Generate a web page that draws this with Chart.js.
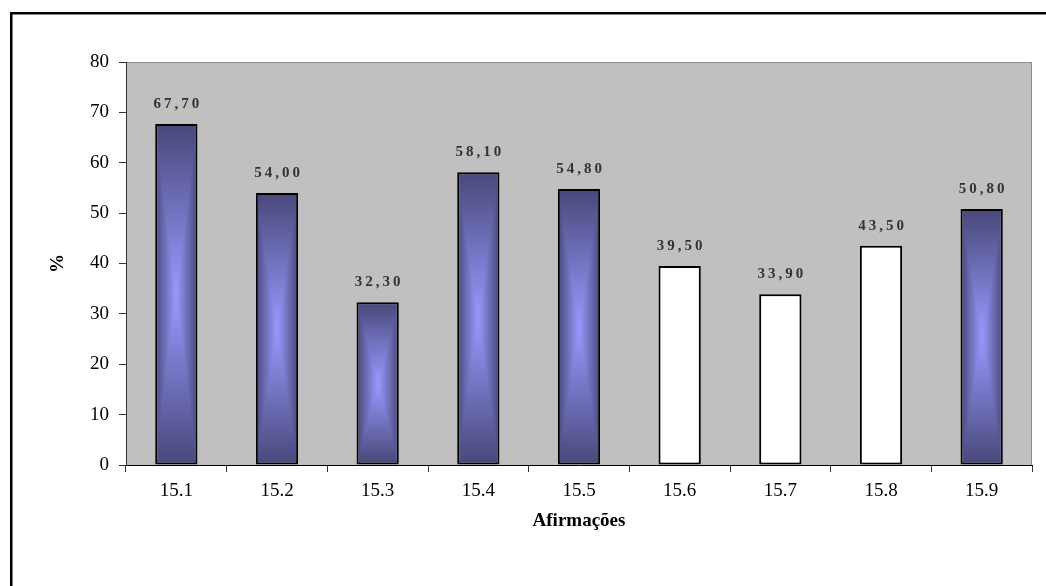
<!DOCTYPE html>
<html>
<head>
<meta charset="utf-8">
<title>Afirmações</title>
<script src="https://cdn.jsdelivr.net/npm/chart.js@4/dist/chart.umd.min.js"></script>
<style>
  html, body { margin: 0; padding: 0; background: #fff; }
  canvas { display: block; }
</style>
</head>
<body>
<canvas id="chart" width="1046" height="586"></canvas>
<script>
// Statements and their percentages
const categories = ['15.1', '15.2', '15.3', '15.4', '15.5', '15.6', '15.7', '15.8', '15.9'];
const percentages = [67.7, 54.0, 32.3, 58.1, 54.8, 39.5, 33.9, 43.5, 50.8];
// true = shaded bar, false = plain white bar
const shaded = [true, true, true, true, true, false, false, false, true];
const yTicks = [0, 10, 20, 30, 40, 50, 60, 70, 80];

const SERIF = '"Liberation Serif", "Times New Roman", serif';
const DARK = [72, 72, 122];
const LIGHT = [153, 153, 255];

// Rectangular "from centre" gradient: light in the middle, dark towards every edge
function centreGradientCanvas(w, h) {
  const c = document.createElement('canvas');
  c.width = Math.max(1, w); c.height = Math.max(1, h);
  const g = c.getContext('2d');
  const img = g.createImageData(c.width, c.height);
  const hw = c.width / 2, hh = c.height / 2;
  for (let y = 0; y < c.height; y++) {
    for (let x = 0; x < c.width; x++) {
      const t = Math.min(1, Math.max(Math.abs(x + 0.5 - hw) / hw, Math.abs(y + 0.5 - hh) / hh));
      const i = (y * c.width + x) * 4;
      img.data[i] = LIGHT[0] + (DARK[0] - LIGHT[0]) * t;
      img.data[i + 1] = LIGHT[1] + (DARK[1] - LIGHT[1]) * t;
      img.data[i + 2] = LIGHT[2] + (DARK[2] - LIGHT[2]) * t;
      img.data[i + 3] = 255;
    }
  }
  g.putImageData(img, 0, 0);
  return c;
}

const fmt = v => v.toFixed(2).replace('.', ',');

// Grey plot area and the outer frame
const backdrop = {
  id: 'backdrop',
  beforeDraw(chart) {
    const { ctx, chartArea: a } = chart;
    ctx.save();
    ctx.fillStyle = '#fff';
    ctx.fillRect(0, 0, chart.width, chart.height);
    ctx.strokeStyle = '#000';
    ctx.lineWidth = 2.5;
    ctx.strokeRect(11.25, 13.25, chart.width + 50, chart.height + 50);
    ctx.fillStyle = '#c0c0c0';
    ctx.fillRect(a.left, a.top, a.right - a.left, a.bottom - a.top);
    ctx.strokeStyle = '#8c8c8c';
    ctx.lineWidth = 1;
    ctx.beginPath();
    ctx.moveTo(a.left, a.top + 0.5);
    ctx.lineTo(a.right - 0.5, a.top + 0.5);
    ctx.lineTo(a.right - 0.5, a.bottom);
    ctx.stroke();
    ctx.restore();
  }
};

// Give every shaded bar its own gradient fill, sized to the bar
const barShading = {
  id: 'barShading',
  beforeDatasetsDraw(chart) {
    const { ctx } = chart;
    const meta = chart.getDatasetMeta(0);
    meta.data.forEach((el, i) => {
      if (!shaded[i]) return;
      const left = Math.round(el.x - el.width / 2);
      const top = Math.round(Math.min(el.y, el.base));
      const w = Math.round(el.width);
      const h = Math.round(Math.abs(el.base - el.y));
      const pattern = ctx.createPattern(centreGradientCanvas(w, h), 'no-repeat');
      pattern.setTransform(new DOMMatrix().translate(left, top));
      el.options.backgroundColor = pattern;
    });
  }
};

// Value labels above each bar
const valueLabels = {
  id: 'valueLabels',
  afterDatasetsDraw(chart) {
    const { ctx } = chart;
    const meta = chart.getDatasetMeta(0);
    ctx.save();
    ctx.font = 'bold 15px ' + SERIF;
    ctx.fillStyle = '#333333';
    ctx.textAlign = 'center';
    ctx.textBaseline = 'middle';
    ctx.letterSpacing = '3px';
    meta.data.forEach((el, i) => {
      ctx.fillText(fmt(percentages[i]), el.x + 1.5, el.y - 20);
    });
    ctx.restore();
  }
};

new Chart(document.getElementById('chart'), {
  type: 'bar',
  data: {
    labels: categories,
    datasets: [{
      data: percentages,
      backgroundColor: ctx => (shaded[ctx.dataIndex] ? 'rgb(110,110,190)' : '#ffffff'),
      borderColor: '#000',
      borderWidth: 2,
      borderSkipped: false,
      categoryPercentage: 1,
      barPercentage: 0.42
    }]
  },
  plugins: [backdrop, barShading, valueLabels],
  options: {
    responsive: false,
    animation: false,
    devicePixelRatio: 1,
    events: [],
    layout: { padding: { left: 0, top: 62, right: 14, bottom: 0 } },
    plugins: { legend: { display: false }, tooltip: { enabled: false } },
    scales: {
      x: {
        grid: { display: true, drawOnChartArea: false, drawTicks: true, tickLength: 7, color: '#333', offset: true },
        border: { display: true, color: '#000', width: 1 },
        ticks: { color: '#000', font: { family: SERIF, size: 19 }, padding: 8, maxRotation: 0 },
        title: {
          display: true, text: 'Afirmações', color: '#000',
          font: { family: SERIF, size: 19, weight: 'bold' },
          padding: { top: 0, bottom: 54 }
        },
        afterFit(scale) { scale.height = 121; }
      },
      y: {
        min: 0, max: 80,
        afterBuildTicks(scale) { scale.ticks = yTicks.map(v => ({ value: v })); },
        grid: { display: true, drawOnChartArea: false, drawTicks: true, tickLength: 7, color: '#333' },
        border: { display: true, color: '#333', width: 1 },
        ticks: { color: '#000', font: { family: SERIF, size: 19 }, padding: 10 },
        title: {
          display: true, text: '%', color: '#000',
          font: { family: SERIF, size: 19, weight: 'bold' },
          padding: { top: 47, bottom: 0 }
        },
        afterFit(scale) { scale.width = 126; }
      }
    }
  }
});
</script>
</body>
</html>
